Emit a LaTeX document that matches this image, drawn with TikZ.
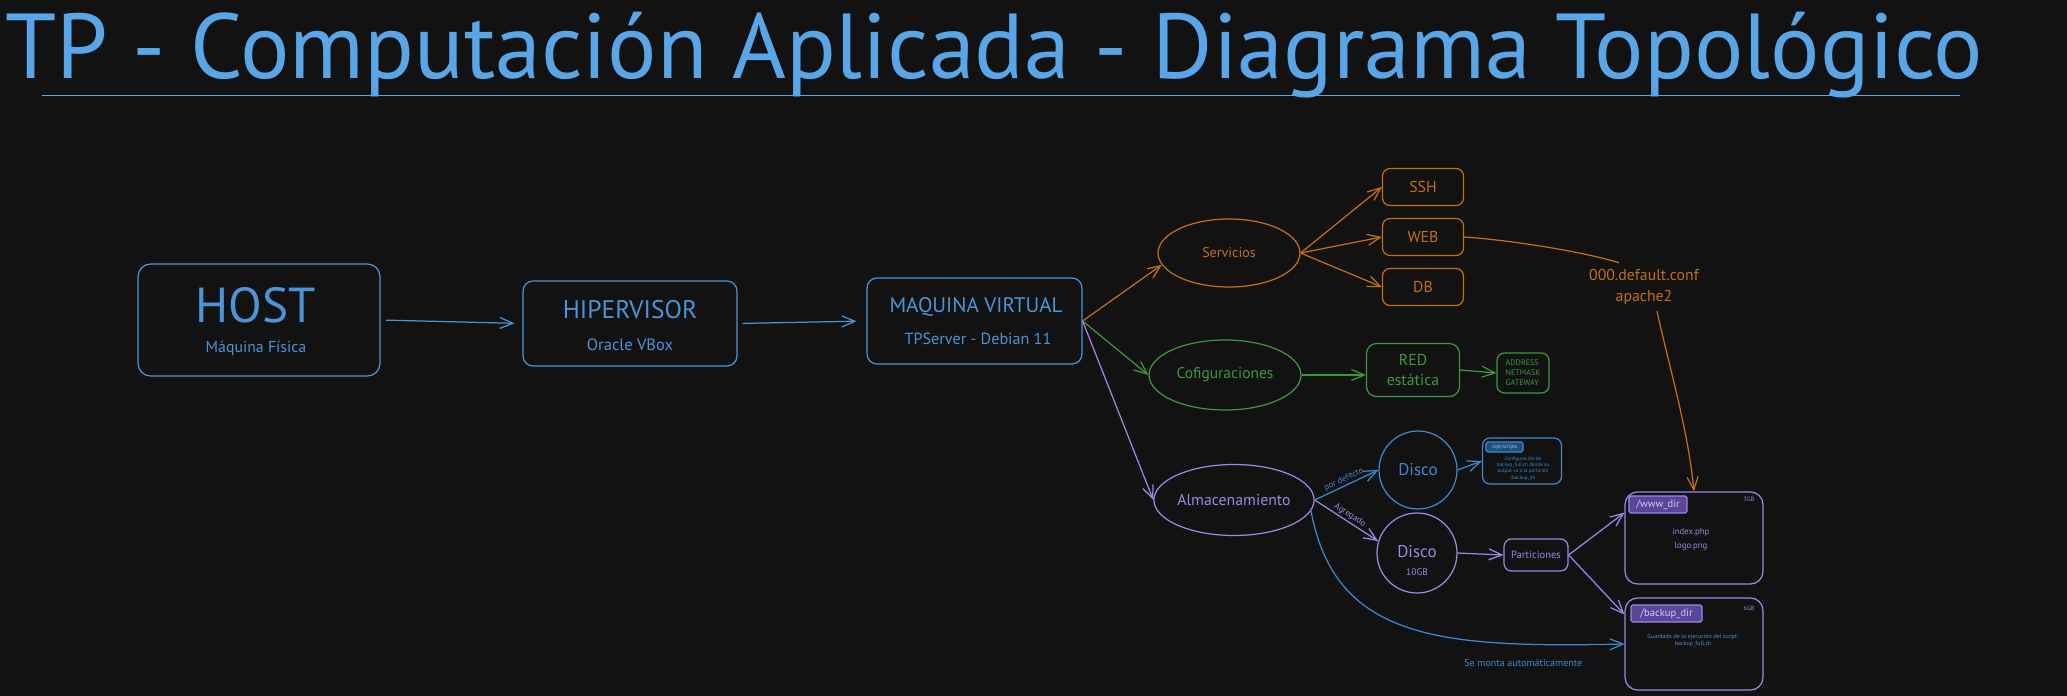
\documentclass[tikz,border=0pt]{standalone}
\usepackage{fontspec}
\setmainfont{PT Sans}
\usepackage{tikz}
\usetikzlibrary{shapes,arrows,positioning,calc,arrows.meta}

\definecolor{fondo}{HTML}{121212}
\definecolor{azul}{HTML}{58A6E8}
\definecolor{azulb}{HTML}{4A94D8}
\definecolor{azulc}{HTML}{3B8AD0}
\definecolor{azultag}{HTML}{1D4E7C}
\definecolor{azulclaro}{HTML}{9CCBF2}
\definecolor{naranja}{HTML}{C46F16}
\definecolor{verde}{HTML}{3A9A3A}
\definecolor{violeta}{HTML}{9F86E4}
\definecolor{violetatag}{HTML}{5A4699}
\definecolor{violetaclaro}{HTML}{D6CBF7}

\begin{document}
\begin{tikzpicture}[x=0.02cm, y=-0.02cm, line width=0.7pt,
    caja/.style={draw, rounded corners=0.2cm, inner sep=0pt},
    elip/.style={draw, ellipse, inner sep=0pt},
    chica/.style={caja, rounded corners=0.15cm},
    etiq/.style={draw, rounded corners=1pt, inner sep=0pt},
    flecha/.style={-{Straight Barb[length=2.6mm,width=2.2mm]}}]
    \useasboundingbox (0,0) rectangle (2067,696);
    \fill[fondo] (0,0) rectangle (2067,696);

    \node[anchor=base west, inner sep=0pt, text=azul, font=\fontsize{52.5}{60}\selectfont] (titulo) at (5,79) {TP - Computación Aplicada - Diagrama Topológico};
    \draw[azul, line width=0.5pt] (42,95) -- (1960,95);

    \node[caja, draw=azulb, rounded corners=0.25cm, minimum width=4.84cm, minimum height=2.24cm] (host) at (259,320) {};
    \node[text=azulb, font=\fontsize{28}{32}\selectfont] (hostT) at (256,305) {HOST};
    \node[text=azulb, font=\fontsize{9}{11}\selectfont] (hostS) at (256,348) {Máquina Física};

    \node[caja, draw=azulb, minimum width=4.28cm, minimum height=1.7cm] (hip) at (630,323.5) {};
    \node[text=azulb, font=\fontsize{14.5}{17}\selectfont] (hipT) at (630,310) {HIPERVISOR};
    \node[text=azulb, font=\fontsize{9.4}{11}\selectfont] (hipS) at (630,345) {Oracle VBox};

    \node[caja, draw=azulb, minimum width=4.3cm, minimum height=1.72cm] (mv) at (974.5,321) {};
    \node[text=azulb, font=\fontsize{12}{14}\selectfont] (mvT) at (976,307) {MAQUINA VIRTUAL};
    \node[text=azulb, font=\fontsize{9.2}{11}\selectfont] (mvS) at (978,339) {TPServer - Debian 11};

    \draw[flecha, azulb, shorten <=0.1cm, shorten >=0.16cm] (host.east) -- (hip.west);
    \draw[flecha, azulb, shorten <=0.1cm, shorten >=0.2cm] (hip.east) -- (mv.west);

    \node[elip, draw=naranja, minimum width=2.84cm, minimum height=1.36cm, text=naranja, font=\fontsize{8}{10}\selectfont] (serv) at (1229,253) {Servicios};
    \node[chica, draw=naranja, minimum width=1.62cm, minimum height=0.74cm, text=naranja, font=\fontsize{9}{11}\selectfont] (ssh) at (1423,187) {SSH};
    \node[chica, draw=naranja, minimum width=1.62cm, minimum height=0.74cm, text=naranja, font=\fontsize{9}{11}\selectfont] (web) at (1423,237) {WEB};
    \node[chica, draw=naranja, minimum width=1.62cm, minimum height=0.74cm, text=naranja, font=\fontsize{9}{11}\selectfont] (db) at (1423,287) {DB};
    \draw[flecha, naranja] (mv.east) -- (serv.190);
    \draw[flecha, naranja] (serv.east) -- (ssh.west);
    \draw[flecha, naranja] (serv.east) -- (web.west);
    \draw[flecha, naranja] (serv.east) -- (db.west);

    \node[text=naranja, align=center, font=\fontsize{9}{12}\selectfont] (conf) at (1644,287) {000.default.conf\\apache2};
    \draw[naranja] (web.east) .. controls (1510,240) and (1585,252) .. ([xshift=-0.5cm]conf.north);

    \node[elip, draw=verde, minimum width=3.04cm, minimum height=1.4cm, text=verde, font=\fontsize{8.8}{10}\selectfont] (cfg) at (1225,375) {Cofiguraciones};
    \node[caja, draw=verde, minimum width=1.86cm, minimum height=1.06cm, align=center, text=verde, font=\fontsize{9}{11.4}\selectfont] (red) at (1413,370) {RED\\estática};
    \node[chica, draw=verde, minimum width=1.04cm, minimum height=0.8cm, align=left, text=verde, font=\fontsize{4.6}{5.7}\selectfont] (dir) at (1523,373) {ADDRESS\\NETMASK\\GATEWAY};
    \draw[flecha, verde] (mv.east) -- (cfg.west);
    \draw[flecha, verde] (cfg.east) -- (cfg.east -| red.west);
    \draw[flecha, verde] (red.east) -- (dir.west);

    \node[elip, draw=violeta, minimum width=3.04cm, minimum height=1.42cm, text=violeta, font=\fontsize{9}{10}\selectfont] (alm) at (1234,500) {Almacenamiento};
    \draw[flecha, violeta] (mv.east) -- (alm.west);

    \node[circle, draw=azulc, minimum size=1.56cm, inner sep=0pt, text=azulc, font=\fontsize{9.7}{11}\selectfont] (d1) at (1418,470) {Disco};
    \node[circle, draw=violeta, minimum size=1.6cm, inner sep=0pt] (d2) at (1417,553) {};
    \node[text=violeta, font=\fontsize{9.7}{11}\selectfont] (d2T) at (1417,552) {Disco};
    \node[text=violeta, font=\fontsize{5.4}{6}\selectfont] (d2S) at (1417,572) {10GB};
    \draw[flecha, azulc] (alm.east) -- node[midway, above, sloped, inner sep=1pt, text=azulc, font=\fontsize{5}{5.5}\selectfont] {por defecto} (d1.west);
    \draw[flecha, violeta] (alm.east) -- node[midway, above, sloped, inner sep=1pt, text=violeta, font=\fontsize{5}{5.5}\selectfont] {Agregado} (d2.163);

    \node[chica, draw=azulc, minimum width=1.58cm, minimum height=0.92cm] (opt) at (1522,461) {};
    \node[etiq, draw=azulc, fill=azultag, minimum width=0.74cm, minimum height=0.2cm, text=azulclaro, font=\fontsize{3}{3.5}\selectfont] (optT) at (1504.5,447) {/opt/scripts};
    \node[text=azulc, align=center, font=\fontsize{2.9}{3.6}\selectfont] (optS) at (1523,468.5) {Configuración de\\backup\_full.sh donde su\\output va a la partición\\/backup\_dir};
    \draw[flecha, azulc] (d1.east) -- (opt.west);

    \node[chica, draw=violeta, minimum width=1.28cm, minimum height=0.64cm, text=violeta, font=\fontsize{6}{7}\selectfont] (part) at (1536,555) {Particiones};
    \draw[flecha, violeta] (d2.east) -- (part.west);

    \node[caja, draw=violeta, rounded corners=0.25cm, minimum width=2.76cm, minimum height=1.84cm] (www) at (1694,538) {};
    \node[etiq, draw=violeta, fill=violetatag, minimum width=1.16cm, minimum height=0.34cm, text=violetaclaro, font=\fontsize{6}{7}\selectfont] (wwwT) at (1658,504.5) {/www\_dir};
    \node[text=violeta, font=\fontsize{3.5}{4}\selectfont] (wwwG) at (1749,499) {3GB};
    \node[text=violeta, align=center, font=\fontsize{5}{8}\selectfont] (wwwS) at (1691,539) {index.php\\logo.png};

    \node[caja, draw=violeta, rounded corners=0.25cm, minimum width=2.76cm, minimum height=1.84cm] (bak) at (1694,644) {};
    \node[etiq, draw=violeta, fill=violetatag, minimum width=1.42cm, minimum height=0.34cm, text=violetaclaro, font=\fontsize{6}{7}\selectfont] (bakT) at (1666.5,613.5) {/backup\_dir};
    \node[text=violeta, font=\fontsize{3.5}{4}\selectfont] (bakG) at (1749,608) {6GB};
    \node[text=azulb, align=center, font=\fontsize{3.4}{4}\selectfont] (bakS) at (1693,640.5) {Guardado de la ejecución del script:\\backup\_full.sh};

    \draw[flecha, violeta] (part.east) -- (www.160);
    \draw[flecha, violeta] (part.east) -- (bak.157);
    \draw[flecha, naranja] ([xshift=0.26cm]conf.south) .. controls (1670,370) and (1688,430) .. (www.north);
    \draw[flecha, azulc] (alm.-8) .. controls (1335,640) and (1440,648) .. (bak.west) node[pos=0.8, below=0.18cm, text=azulc, font=\fontsize{5.7}{6}\selectfont] {Se monta automáticamente};
\end{tikzpicture}
\end{document}
